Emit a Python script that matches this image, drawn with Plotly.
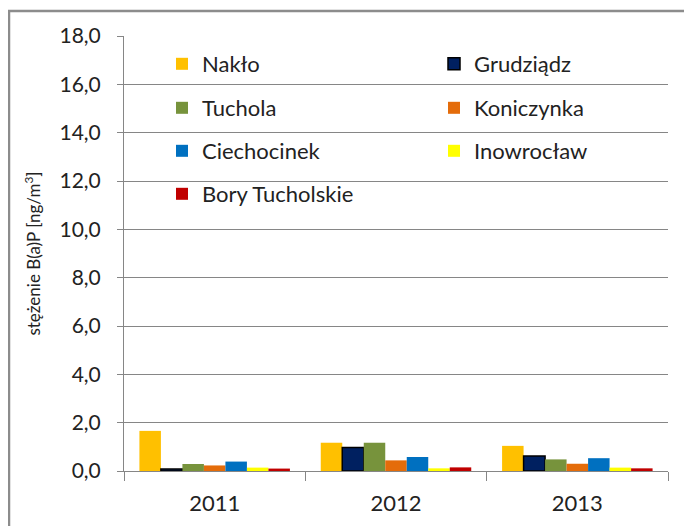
import plotly.graph_objects as go

# dane
lata = ["2011", "2012", "2013"]
stacje = ["Nakło", "Grudziądz", "Tuchola", "Koniczynka",
          "Ciechocinek", "Inowrocław", "Bory Tucholskie"]
naklo = [1.66, 1.17, 1.04]
grudziadz = [0.08, 0.97, 0.62]
tuchola = [0.29, 1.17, 0.48]
koniczynka = [0.23, 0.44, 0.30]
ciechocinek = [0.39, 0.58, 0.53]
inowroclaw = [0.14, 0.11, 0.14]
bory = [0.10, 0.15, 0.11]

wartosci = [naklo, grudziadz, tuchola, koniczynka, ciechocinek, inowroclaw, bory]
kolory = ["#FFC000", "#002060", "#77933C", "#E46C0A", "#0070C0", "#FFFF00", "#C00000"]

FONT = "Lato"

# strona html ma margines 8 px, więc obszar wykresu liczony w pikselach figury
OFF = 8
W, H = 692, 526
L, T = 124 - OFF, 36 - OFF
R, B = W - (668 - OFF), H - (471 - OFF)
pw, ph = W - L - R, H - T - B

def lx(px):
    # px w pikselach ekranu
    return (px - OFF - L) / pw

def ly(py):
    return (H - B - (py - OFF)) / ph

# pozycje wpisów legendy (dwie kolumny, cztery wiersze), ekran
leg_x = [203, 475, 203, 475, 203, 475, 203]
leg_y = [64, 64, 108, 108, 151, 151, 194]

fig = go.Figure()
layout_leg = {}
for i, (nazwa, y, kolor) in enumerate(zip(stacje, wartosci, kolory)):
    lg = "legend" if i == 0 else f"legend{i + 1}"
    fig.add_trace(go.Bar(
        x=lata, y=y, name=nazwa, legend=lg, showlegend=True,
        marker=dict(color=kolor,
                    line=dict(color="black", width=1.5 if nazwa == "Grudziądz" else 0)),
    ))
    layout_leg[lg] = dict(x=lx(leg_x[i] - 41), y=ly(leg_y[i]),
                          xanchor="left", yanchor="middle",
                          font=dict(family=FONT, size=22, color="#222"),
                          bgcolor="rgba(0,0,0,0)")

fig.update_layout(
    width=W, height=H,
    showlegend=True,
    margin=dict(l=L, r=R, t=T, b=B, autoexpand=False),
    paper_bgcolor="white", plot_bgcolor="white",
    barmode="group", bargap=0.17, bargroupgap=0,
    separators=", ",
    font=dict(family=FONT, color="#222"),
    xaxis=dict(
        showline=True, linecolor="#868686", linewidth=1,
        ticks="outside", tickson="boundaries", ticklen=9, tickcolor="#868686",
        ticklabelstandoff=13,
        tickfont=dict(family=FONT, size=22, color="#222"),
        showgrid=False, automargin=False,
    ),
    yaxis=dict(
        range=[0, 18], dtick=2, tickformat=".1f",
        showline=True, linecolor="#868686", linewidth=1,
        ticks="outside", ticklen=6, tickcolor="#868686",
        ticklabelstandoff=12,
        showgrid=True, gridcolor="#868686", gridwidth=1,
        zeroline=False, automargin=False,
        tickfont=dict(family=FONT, size=21, color="#222"),
        title=dict(text="stężenie B(a)P [ng/m<sup>3</sup>]",
                   font=dict(family=FONT, size=17, color="#222"), standoff=14),
    ),
    shapes=[dict(type="rect", xref="paper", yref="paper",
                 x0=lx(9), x1=lx(700), y0=ly(540), y1=ly(11),
                 line=dict(color="#8c8c8c", width=2.5), layer="below")],
    **layout_leg,
)

fig.write_html("out.html")
